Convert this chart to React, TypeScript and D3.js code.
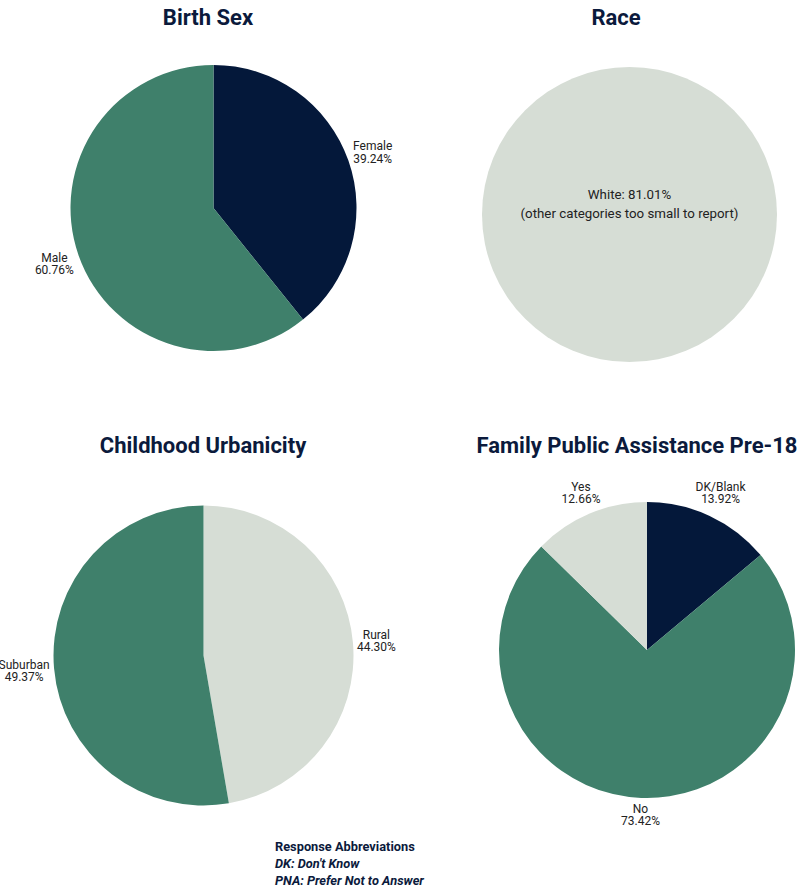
import React from "react";
import * as d3 from "d3";

const birthSexLabels = ["Female", "Male"];
const birthSexValues = [39.24, 60.76];
const raceLabels = ["White"];
const raceValues = [81.01];
const urbanLabels = ["Rural", "Suburban"];
const urbanValues = [44.3, 49.37];
const familyLabels = ["DK/Blank", "No", "Yes"];
const familyValues = [13.92, 73.42, 12.66];

const NAVY = "#04183a";
const GREEN = "#3f806b";
const LIGHT = "#d6ddd5";
const TITLE = "#0b1a3c";
const FONT = "Roboto, 'Noto Sans', sans-serif";

type PieProps = {
  title: string;
  titleX: number;
  titleY: number;
  cx: number;
  cy: number;
  r: number;
  labels: string[];
  values: number[];
  colors: string[];
  showLabels?: boolean;
};

function Pie({ title, titleX, titleY, cx, cy, r, labels, values, colors, showLabels = true }: PieProps) {
  const data = labels.map((l, i) => ({ label: l, value: values[i], color: colors[i] }));
  const pie = d3.pie<any>().sort(null).value((d: any) => d.value);
  const arcs = pie(data);
  const arc = d3.arc<any>().innerRadius(0).outerRadius(r);
  return (
    <g>
      <text x={titleX} y={titleY} textAnchor="middle" fontFamily={FONT} fontWeight={700} fontSize={22} fill={TITLE}>
        {title}
      </text>
      <g transform={`translate(${cx},${cy})`}>
        {arcs.map((a, i) => (
          <path key={i} d={arc(a) || ""} fill={a.data.color} />
        ))}
        {showLabels &&
          arcs.map((a, i) => {
            const mid = (a.startAngle + a.endAngle) / 2;
            const pct = a.data.value.toFixed(2) + "%";
            const maxChars = Math.max(a.data.label.length, pct.length);
            const halfW = (maxChars * 6.5) / 2;
            const halfH = 13;
            const s = Math.sin(mid);
            const c = Math.cos(mid);
            const dist = r + 3 + Math.abs(halfW * s) + Math.abs(halfH * c);
            const x = dist * s;
            const y = -dist * c;
            return (
              <text key={"l" + i} x={x} y={y} textAnchor="middle" fontFamily={FONT} fontSize={12} fill="#222">
                <tspan x={x} dy={-2}>{a.data.label}</tspan>
                <tspan x={x} dy={12.5}>{pct}</tspan>
              </text>
            );
          })}
      </g>
    </g>
  );
}

export default function App() {
  return (
    <svg width={801} height={888} style={{ position: "absolute", left: 0, top: 0, background: "#fff" }}>
      <Pie
        title="Birth Sex"
        titleX={208}
        titleY={25}
        cx={213.5}
        cy={208}
        r={143}
        labels={birthSexLabels}
        values={birthSexValues}
        colors={[NAVY, GREEN]}
      />
      <Pie
        title="Race"
        titleX={616}
        titleY={25}
        cx={629.5}
        cy={214.5}
        r={147.5}
        labels={raceLabels}
        values={raceValues}
        colors={[LIGHT]}
        showLabels={false}
      />
      <text x={629.5} y={199} textAnchor="middle" fontFamily={FONT} fontSize={13.3} fill="#222">
        {raceLabels[0] + ": " + raceValues[0].toFixed(2) + "%"}
      </text>
      <text x={629.5} y={218} textAnchor="middle" fontFamily={FONT} fontSize={13.3} fill="#222">
        (other categories too small to report)
      </text>
      <Pie
        title="Childhood Urbanicity"
        titleX={203}
        titleY={453}
        cx={203.5}
        cy={655.5}
        r={150}
        labels={urbanLabels}
        values={urbanValues}
        colors={[LIGHT, GREEN]}
      />
      <Pie
        title="Family Public Assistance Pre-18"
        titleX={637}
        titleY={453}
        cx={647}
        cy={650}
        r={148}
        labels={familyLabels}
        values={familyValues}
        colors={[NAVY, GREEN, LIGHT]}
      />
      <g fontFamily={FONT} fontSize={12.8} fill={TITLE} fontWeight={700}>
        <text x={275} y={851}>Response Abbreviations</text>
        <text x={275} y={868} fontStyle="italic">DK: Don't Know</text>
        <text x={275} y={885} fontStyle="italic">PNA: Prefer Not to Answer</text>
      </g>
    </svg>
  );
}
